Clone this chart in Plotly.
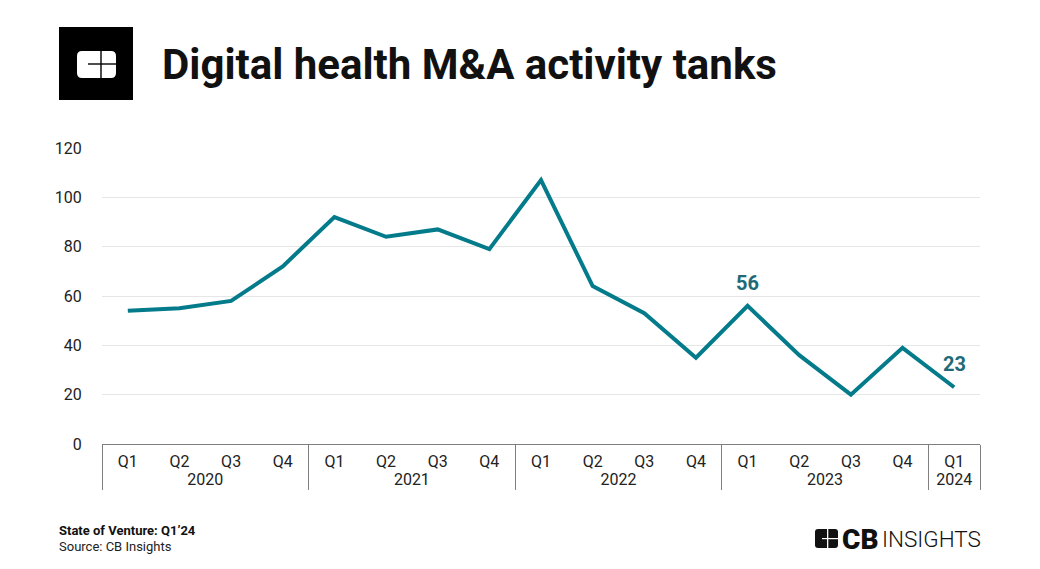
import plotly.graph_objects as go

years = ["2020"] * 4 + ["2021"] * 4 + ["2022"] * 4 + ["2023"] * 4 + ["2024"]
quarters = ["Q1", "Q2", "Q3", "Q4"] * 4 + ["Q1"]
deals = [54, 55, 58, 72, 92, 84, 87, 79, 107, 64, 53, 35, 56, 36, 20, 39, 23]
labels = ["", "", "", "", "", "", "", "", "", "", "", "", "56", "", "", "", "23"]
y_ticks = [0, 20, 40, 60, 80, 100, 120]

title = "Digital health M&A activity tanks"
footer_bold = "State of Venture: Q1’24"
footer_src = "Source: CB Insights"

OFF = 8  # page body margin
W, H = 1040 - OFF, 569 - OFF
# plot area in reference (screen) pixels
L, R, T, B = 102, 980, 148, 444
LINE = "#037b8b"
LABEL = "#1e6a78"
FONT = "Roboto, Arial, sans-serif"


def px(x):
    return (x - L) / (R - L)


def py(y):
    return (B - y) / (B - T)


fig = go.Figure()
fig.add_trace(go.Scatter(
    x=[years, quarters], y=deals, mode="lines",
    line=dict(color=LINE, width=4),
    hoverinfo="skip", showlegend=False,
))

annotations = []
for i, lab in enumerate(labels):
    if lab:
        annotations.append(dict(x=i, y=deals[i], xref="x", yref="y", text=f"<b>{lab}</b>",
                                showarrow=False, yshift=23, xanchor="center", yanchor="middle",
                                font=dict(family=FONT, size=20, color=LABEL)))


def rect(x0, x1, y0, y1, color):
    return dict(type="rect", xref="paper", yref="paper", x0=px(x0), x1=px(x1), y0=py(y1), y1=py(y0),
                fillcolor=color, line=dict(width=0), layer="above")


def rrect(x0, x1, y0, y1, r, color):
    X0, X1, Y0, Y1 = px(x0), px(x1), py(y1), py(y0)
    rx, ry = r / (R - L), r / (B - T)
    path = (f"M{X0+rx},{Y0} L{X1-rx},{Y0} Q{X1},{Y0} {X1},{Y0+ry} L{X1},{Y1-ry} Q{X1},{Y1} {X1-rx},{Y1} "
            f"L{X0+rx},{Y1} Q{X0},{Y1} {X0},{Y1-ry} L{X0},{Y0+ry} Q{X0},{Y0} {X0+rx},{Y0} Z")
    return dict(type="path", xref="paper", yref="paper", path=path, fillcolor=color,
                line=dict(width=0), layer="above")


shapes = [
    rect(59, 133, 27, 100, "#000000"),
    rrect(77, 116, 51, 78, 5, "#ffffff"),
    rect(100.3, 101.7, 51, 78, "#000000"),
    rect(88, 116, 63.3, 64.7, "#000000"),
    # bottom-right icon
    rrect(815, 838, 529, 548, 3, "#111111"),
    rect(827, 828.3, 529, 548, "#ffffff"),
    rect(822, 838, 538, 539.2, "#ffffff"),
]

annotations += [
    dict(text=f"<b>{title}</b>", xref="paper", yref="paper", x=px(160), y=py(65),
         xanchor="left", yanchor="middle", showarrow=False,
         font=dict(family=FONT, size=42, color="#111111")),
    dict(text=f"<b>{footer_bold}</b>", xref="paper", yref="paper", x=px(57), y=py(530),
         xanchor="left", yanchor="middle", showarrow=False,
         font=dict(family=FONT, size=13, color="#111111")),
    dict(text=footer_src, xref="paper", yref="paper", x=px(57), y=py(546),
         xanchor="left", yanchor="middle", showarrow=False,
         font=dict(family=FONT, size=13, color="#222222")),
    dict(text="CB", xref="paper", yref="paper", x=px(840), y=py(539),
         xanchor="left", yanchor="middle", showarrow=False,
         font=dict(family=FONT, size=28, color="#111111", weight=900)),
    dict(text="INSIGHTS", xref="paper", yref="paper", x=px(880), y=py(539),
         xanchor="left", yanchor="middle", showarrow=False,
         font=dict(family=FONT, size=22.5, color="#111111", weight=300)),
]

fig.update_layout(
    width=W, height=H,
    margin=dict(l=L - OFF, r=W - (R - OFF), t=T - OFF, b=H - (B - OFF), pad=0, autoexpand=False),
    paper_bgcolor="#ffffff", plot_bgcolor="#ffffff",
    font=dict(family=FONT, size=16, color="#222222"),
    shapes=shapes, annotations=annotations,
    xaxis=dict(type="multicategory", showline=True, linecolor="#7f7f7f", linewidth=1, automargin=False,
               range=[-0.5, len(deals) - 0.5], ticklabelstandoff=3,
               showgrid=False, ticks="", showdividers=True, dividercolor="#7f7f7f", dividerwidth=1,
               tickfont=dict(family=FONT, size=16, color="#222222")),
    yaxis=dict(range=[0, 120], tickvals=y_ticks, showgrid=True, gridcolor="#e6e6e6", gridwidth=1,
               zeroline=False, showline=False, ticks="outside", ticklen=16, tickcolor="rgba(0,0,0,0)",
               automargin=False, tickfont=dict(family=FONT, size=16, color="#222222")),
)

fig.write_html("out.html")
